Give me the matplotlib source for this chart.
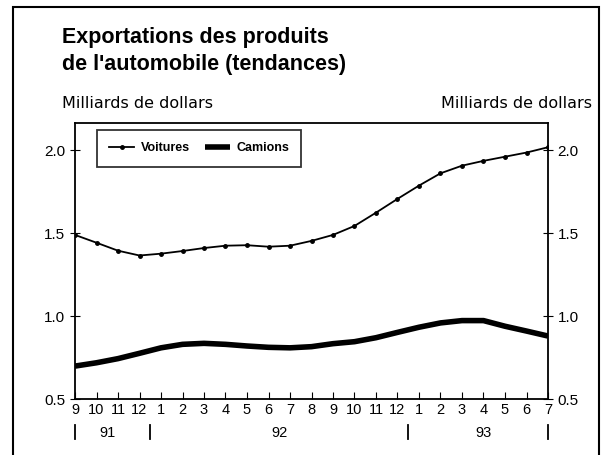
import numpy as np
import matplotlib.pyplot as plt
from matplotlib.patches import Rectangle
import matplotlib.transforms as mtransforms

plt.rcParams['font.family'] = ['Liberation Sans', 'DejaVu Sans']

# Months from Sept 1991 to July 1993
months = ['9', '10', '11', '12', '1', '2', '3', '4', '5', '6', '7', '8',
          '9', '10', '11', '12', '1', '2', '3', '4', '5', '6', '7']
years = ['91', '92', '93']
year_centres = [1.5, 9.5, 19.0]
year_breaks = [0, 3.5, 15.5, 22]

# Values (billions of dollars)
voitures = [1.49, 1.443, 1.395, 1.366, 1.377, 1.393, 1.411, 1.425, 1.428, 1.419,
            1.425, 1.454, 1.49, 1.544, 1.624, 1.707, 1.787, 1.861, 1.907, 1.936,
            1.961, 1.986, 2.018]
camions = [0.70, 0.72, 0.745, 0.777, 0.81, 0.831, 0.837, 0.831, 0.821, 0.813,
           0.81, 0.817, 0.835, 0.847, 0.871, 0.903, 0.934, 0.96, 0.974, 0.974,
           0.94, 0.911, 0.881]

x = np.arange(len(months))

fig = plt.figure(figsize=(6.11, 4.55), dpi=100)
ax = fig.add_axes([75 / 611, 1 - 399.3 / 455, 473 / 611, 276.3 / 455])

# Outer frame of the figure
fig.patches.append(Rectangle((13 / 611, -0.05), 586 / 611, 1.05 - 7 / 455,
                             transform=fig.transFigure, fill=False,
                             edgecolor='black', linewidth=1.5))

ax.plot(x, voitures, color='black', linewidth=1.3, marker='o', markersize=2.5,
        label='Voitures')
ax.plot(x, camions, color='black', linewidth=4, solid_capstyle='butt',
        label='Camions')

ax.set_xlim(0, 22)
ax.set_ylim(0.5, 2.164)
ax.set_yticks([0.5, 1.0, 1.5, 2.0])
ax.set_yticklabels(['0.5', '1.0', '1.5', '2.0'])
ax.set_xticks(x)
ax.set_xticklabels(months)
ax.tick_params(axis='x', direction='in', length=5, labelsize=10.5, pad=3)
ax.tick_params(axis='y', direction='inout', length=7, labelsize=11,
               right=True, labelright=True)

for s in ax.spines.values():
    s.set_linewidth(1.3)

# Year separators and labels under the month labels
trans = mtransforms.blended_transform_factory(ax.transData, ax.transAxes)
for b in year_breaks:
    ax.plot([b, b], [-0.145, -0.092], color='black', linewidth=1.3,
            transform=trans, clip_on=False)
for c, yr in zip(year_centres, years):
    ax.text(c, -0.122, yr, transform=trans, ha='center', va='center', fontsize=10.5)

leg = ax.legend(loc='upper left', ncol=2, frameon=True, fancybox=False,
                edgecolor='black', prop={'weight': 'bold', 'size': 9},
                bbox_to_anchor=(0.0465, 0.9747), borderaxespad=0,
                handlelength=2.0, handletextpad=0.5, columnspacing=1.2,
                borderpad=1.0)
leg.get_frame().set_linewidth(1.3)

fig.text(62 / 611, 1 - 27 / 455, "Exportations des produits\nde l'automobile (tendances)",
         ha='left', va='top', fontsize=15.5, fontweight='bold', linespacing=1.35)
fig.text(62 / 611, 1 - 104 / 455, 'Milliards de dollars', ha='left', va='center',
         fontsize=11.5, family='DejaVu Sans')
fig.text(592 / 611, 1 - 104 / 455, 'Milliards de dollars', ha='right', va='center',
         fontsize=11.5, family='DejaVu Sans')

fig.savefig('out.png', dpi=100)
